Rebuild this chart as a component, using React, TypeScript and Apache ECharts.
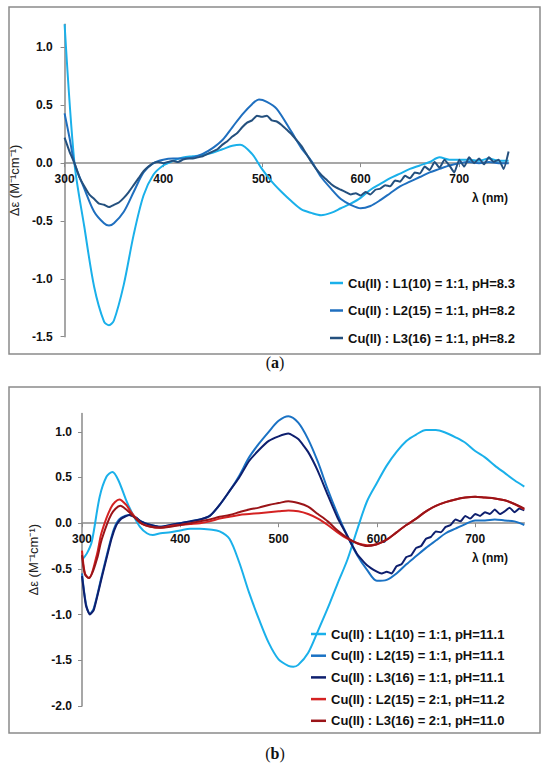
import React, { useEffect, useRef } from "react";
import * as echarts from "echarts";

// ---------- Panel (a) data ----------
const aL1X = [300, 310, 320, 330, 340, 345, 350, 360, 370, 380, 390, 400, 410, 420, 430, 440, 450, 460, 470, 478, 490, 500, 510, 520, 530, 540, 550, 560, 570, 580, 590, 600, 610, 620, 630, 640, 650, 660, 670, 680, 690, 700, 710, 720, 730, 740, 750];
const aL1Y = [1.2, 0.0, -0.55, -1.07, -1.37, -1.4, -1.36, -1.05, -0.62, -0.28, -0.1, -0.02, 0.02, 0.05, 0.06, 0.07, 0.09, 0.12, 0.15, 0.16, 0.08, -0.05, -0.16, -0.25, -0.33, -0.4, -0.43, -0.45, -0.43, -0.39, -0.35, -0.3, -0.23, -0.18, -0.13, -0.09, -0.05, -0.02, 0.01, 0.05, 0.03, 0.03, 0.03, 0.02, 0.04, 0.02, 0.02];

const aL2X = [300, 305, 310, 320, 330, 340, 345, 350, 360, 370, 380, 390, 400, 410, 420, 430, 440, 450, 460, 470, 480, 490, 497, 505, 515, 530, 540, 550, 560, 570, 580, 590, 600, 610, 620, 630, 640, 650, 660, 670, 680, 690, 700, 710, 720, 730, 740, 750];
const aL2Y = [0.43, 0.22, 0.0, -0.22, -0.42, -0.52, -0.54, -0.52, -0.42, -0.25, -0.08, 0.0, 0.03, 0.04, 0.04, 0.05, 0.08, 0.13, 0.2, 0.31, 0.42, 0.51, 0.55, 0.53, 0.47, 0.27, 0.13, 0.02, -0.12, -0.22, -0.31, -0.36, -0.39, -0.37, -0.32, -0.26, -0.2, -0.16, -0.12, -0.08, -0.05, -0.02, 0.0, 0.01, 0.0, 0.01, 0.0, 0.0];

const aL3X = [300, 305, 310, 315, 320, 325, 330, 335, 340, 345, 350, 355, 360, 365, 370, 375, 380, 385, 390, 395, 400, 405, 410, 415, 420, 425, 430, 435, 440, 445, 450, 455, 460, 465, 470, 475, 480, 485, 490, 495, 500, 505, 510, 515, 520, 525, 530, 535, 540, 545, 550, 555, 560, 565, 570, 575, 580, 585, 590, 595, 600, 605, 610, 615, 620, 625, 630, 635, 640, 645, 650, 655, 660, 665, 670, 675, 680, 685, 690, 695, 700, 705, 710, 715, 720, 725, 730, 735, 740, 745, 750];
const aL3Y = [0.22, 0.1, 0.0, -0.12, -0.2, -0.27, -0.31, -0.35, -0.36, -0.38, -0.36, -0.34, -0.3, -0.25, -0.19, -0.13, -0.07, -0.03, 0.0, 0.01, 0.0, 0.01, 0.02, 0.01, 0.03, 0.04, 0.04, 0.05, 0.06, 0.08, 0.1, 0.12, 0.16, 0.19, 0.23, 0.26, 0.31, 0.35, 0.37, 0.41, 0.4, 0.41, 0.37, 0.36, 0.33, 0.29, 0.25, 0.2, 0.15, 0.08, 0.01, -0.05, -0.1, -0.14, -0.18, -0.21, -0.23, -0.25, -0.27, -0.26, -0.28, -0.25, -0.27, -0.23, -0.22, -0.19, -0.2, -0.15, -0.16, -0.11, -0.13, -0.08, -0.09, -0.03, -0.06, 0.01, -0.04, 0.03, -0.02, -0.08, 0.03, -0.03, 0.05, 0.0, 0.04, -0.01, 0.05, 0.01, 0.03, -0.05, 0.1];

// ---------- Panel (b) data ----------
const bL1X = [300, 305, 310, 318, 325, 331, 337, 345, 352, 359, 366, 372, 380, 390, 400, 410, 420, 430, 440, 450, 460, 470, 480, 490, 500, 510, 515, 520, 530, 540, 550, 560, 570, 580, 590, 600, 610, 620, 630, 640, 650, 660, 670, 680, 690, 700, 710, 720, 730, 740, 750];
const bL1Y = [-0.4, -0.33, -0.2, 0.29, 0.51, 0.56, 0.47, 0.25, 0.09, -0.04, -0.11, -0.13, -0.11, -0.1, -0.08, -0.06, -0.06, -0.07, -0.09, -0.17, -0.43, -0.76, -1.05, -1.31, -1.49, -1.56, -1.57, -1.55, -1.42, -1.18, -0.93, -0.66, -0.4, -0.07, 0.24, 0.44, 0.63, 0.78, 0.9, 0.97, 1.02, 1.02, 0.99, 0.94, 0.88, 0.79, 0.72, 0.63, 0.55, 0.47, 0.4];

const bL2X = [300, 304, 308, 312, 320, 330, 335, 340, 348, 355, 360, 370, 380, 390, 400, 410, 420, 430, 440, 450, 460, 470, 480, 490, 500, 510, 520, 530, 540, 550, 560, 570, 580, 590, 600, 610, 620, 630, 640, 650, 660, 670, 680, 690, 700, 710, 720, 730, 740, 750];
const bL2Y = [-0.55, -0.88, -0.99, -0.93, -0.58, -0.15, 0.0, 0.06, 0.09, 0.06, 0.02, -0.02, -0.04, -0.02, 0.0, 0.02, 0.04, 0.08, 0.2, 0.35, 0.52, 0.72, 0.87, 1.0, 1.12, 1.17, 1.1, 0.92, 0.67, 0.37, 0.1, -0.14, -0.35, -0.51, -0.63, -0.62, -0.55, -0.45, -0.36, -0.27, -0.19, -0.11, -0.06, -0.01, 0.03, 0.03, 0.04, 0.03, 0.02, -0.02];

const bL3X = [300, 304, 308, 312, 320, 330, 335, 340, 348, 355, 360, 370, 380, 390, 400, 410, 420, 430, 440, 450, 460, 470, 480, 490, 500, 510, 520, 530, 540, 550, 560, 570, 580, 590, 600, 605, 610, 615, 620, 625, 630, 635, 640, 645, 650, 655, 660, 665, 670, 675, 680, 685, 690, 695, 700, 705, 710, 715, 720, 725, 730, 735, 740, 745, 750];
const bL3Y = [-0.58, -0.9, -1.0, -0.95, -0.6, -0.17, -0.02, 0.05, 0.09, 0.06, 0.02, -0.02, -0.04, -0.02, 0.0, 0.02, 0.04, 0.08, 0.2, 0.35, 0.5, 0.68, 0.8, 0.9, 0.95, 0.98, 0.92, 0.78, 0.57, 0.31, 0.06, -0.14, -0.34, -0.46, -0.53, -0.55, -0.53, -0.55, -0.47, -0.45, -0.37, -0.35, -0.27, -0.25, -0.17, -0.15, -0.09, -0.1, -0.04, -0.02, 0.04, 0.02, 0.08, 0.05, 0.1, 0.08, 0.12, 0.1, 0.15, 0.1, 0.13, 0.17, 0.12, 0.16, 0.14];

const bR2X = [300, 303, 307, 315, 320, 330, 338, 345, 350, 360, 370, 380, 390, 400, 410, 420, 430, 440, 450, 460, 470, 480, 490, 500, 510, 520, 530, 540, 550, 560, 570, 580, 590, 600, 610, 620, 630, 640, 650, 660, 670, 680, 690, 700, 710, 720, 730, 740, 750];
const bR2Y = [-0.3, -0.55, -0.6, -0.35, -0.1, 0.18, 0.26, 0.2, 0.12, 0.0, -0.04, -0.05, -0.03, -0.02, -0.01, 0.0, 0.02, 0.05, 0.07, 0.09, 0.1, 0.11, 0.12, 0.13, 0.14, 0.13, 0.1, 0.05, -0.02, -0.1, -0.17, -0.22, -0.24, -0.23, -0.18, -0.1, -0.02, 0.05, 0.13, 0.19, 0.23, 0.26, 0.28, 0.29, 0.28, 0.27, 0.25, 0.21, 0.15];

const bR3X = [300, 303, 307, 315, 320, 330, 339, 345, 350, 360, 370, 380, 390, 400, 410, 420, 430, 440, 450, 460, 470, 480, 490, 500, 510, 520, 530, 540, 550, 560, 570, 580, 590, 600, 610, 620, 630, 640, 650, 660, 670, 680, 690, 700, 710, 720, 730, 740, 750];
const bR3Y = [-0.35, -0.56, -0.6, -0.4, -0.18, 0.1, 0.19, 0.15, 0.1, 0.0, -0.04, -0.05, -0.04, -0.02, 0.0, 0.02, 0.04, 0.07, 0.09, 0.12, 0.15, 0.17, 0.2, 0.22, 0.24, 0.22, 0.18, 0.1, 0.02, -0.08, -0.16, -0.22, -0.25, -0.23, -0.18, -0.1, -0.02, 0.05, 0.13, 0.19, 0.23, 0.26, 0.28, 0.29, 0.28, 0.27, 0.25, 0.21, 0.16];

const namesA = [
  "Cu(II) : L1(10) = 1:1, pH=8.3",
  "Cu(II) : L2(15) = 1:1, pH=8.2",
  "Cu(II) : L3(16) = 1:1, pH=8.2",
];
const namesB = [
  "Cu(II) : L1(10) = 1:1, pH=11.1",
  "Cu(II) : L2(15) = 1:1, pH=11.1",
  "Cu(II) : L3(16) = 1:1, pH=11.1",
  "Cu(II) : L2(15) = 2:1, pH=11.2",
  "Cu(II) : L3(16) = 2:1, pH=11.0",
];
const colorsA = ["#1ab0ea", "#1f6fbf", "#24507e"];
const colorsB = ["#1ab0ea", "#1a72c4", "#0e1f6e", "#d42222", "#9a1418"];

const xTicks = [300, 400, 500, 600, 700];
const yTicksA = [-1.5, -1, -0.5, 0, 0.5, 1];
const yTicksB = [-2, -1.5, -1, -0.5, 0, 0.5, 1];

const FONT = "Liberation Sans, Arial, sans-serif";
const GRAY = "#8a8a8a";

const zip = (xs: number[], ys: number[]) => xs.map((x, i) => [x, ys[i]]);

// Grid layouts (pixels)
const gridA = { left: 62, top: 24.3, width: 446.6, height: 312.4 };
const gridB = { left: 82, top: 413.5, width: 442.3, height: 292.5 };
const yMinA = -1.5;
const yMinB = -2;
const yMax = 1.2;
// distance from grid bottom up to the y=0 line
const zeroOffset = (g: { height: number }, min: number) => -(g.height * (0 - min)) / (yMax - min);

function xAxisCfg(gridIndex: number, offset: number) {
  return {
    type: "value",
    gridIndex,
    min: 300,
    max: 750,
    position: "bottom",
    offset,
    axisLine: { show: true, onZero: false, lineStyle: { color: GRAY, width: 1.5 } },
    axisTick: { show: true, length: 4, customValues: xTicks, lineStyle: { color: GRAY } },
    axisLabel: {
      customValues: xTicks,
      fontFamily: FONT,
      fontWeight: "bold",
      fontSize: 12,
      color: "#111",
      margin: 10,
    },
    splitLine: { show: false },
  };
}

function yAxisCfg(gridIndex: number, min: number, ticks: number[], gap: number, margin: number) {
  return {
    type: "value",
    gridIndex,
    min,
    max: yMax,
    name: "Δε (M⁻¹cm⁻¹)",
    nameLocation: "middle",
    nameRotate: 90,
    nameGap: gap,
    nameTextStyle: { fontFamily: FONT, fontSize: 13, color: "#222" },
    axisLine: { show: true, onZero: false, lineStyle: { color: GRAY, width: 1.5 } },
    axisTick: { show: true, length: 4, customValues: ticks, lineStyle: { color: GRAY } },
    axisLabel: {
      customValues: ticks,
      formatter: (v: number) => v.toFixed(1),
      fontFamily: FONT,
      fontWeight: "bold",
      fontSize: 12,
      color: "#111",
      margin,
    },
    splitLine: { show: false },
  };
}

function line(name: string, color: string, data: number[][], idx: number, smooth = 0.3) {
  return {
    type: "line",
    name,
    xAxisIndex: idx,
    yAxisIndex: idx,
    data,
    symbol: "none",
    showSymbol: false,
    smooth,
    color,
    lineStyle: { color, width: 2 },
  };
}

export default function App() {
  const ref = useRef<HTMLDivElement>(null);
  useEffect(() => {
    if (!ref.current) return;
    const chart = echarts.init(ref.current, null, { renderer: "svg" });
    const legendText = { fontFamily: FONT, fontSize: 13, fontWeight: "bold", color: "#111", lineHeight: 14 };
    chart.setOption({
      animation: false,
      backgroundColor: "#fff",
      grid: [gridA, gridB],
      xAxis: [xAxisCfg(0, zeroOffset(gridA, yMinA)), xAxisCfg(1, zeroOffset(gridB, yMinB))],
      yAxis: [yAxisCfg(0, yMinA, yTicksA, 39, 12), yAxisCfg(1, yMinB, yTicksB, 40, 10)],
      legend: [
        {
          data: namesA,
          orient: "vertical",
          left: 330,
          top: 276,
          padding: 0,
          icon: "rect",
          itemWidth: 13,
          itemHeight: 2.5,
          itemGap: 13.5,
          textStyle: legendText,
        },
        {
          data: namesB,
          orient: "vertical",
          left: 311,
          top: 627,
          padding: 0,
          icon: "rect",
          itemWidth: 15,
          itemHeight: 2.5,
          itemGap: 7.7,
          textStyle: legendText,
        },
      ],
      series: [
        line(namesA[0], colorsA[0], zip(aL1X, aL1Y), 0),
        line(namesA[1], colorsA[1], zip(aL2X, aL2Y), 0),
        line(namesA[2], colorsA[2], zip(aL3X, aL3Y), 0, 0.15),
        line(namesB[0], colorsB[0], zip(bL1X, bL1Y), 1),
        line(namesB[1], colorsB[1], zip(bL2X, bL2Y), 1),
        line(namesB[2], colorsB[2], zip(bL3X, bL3Y), 1, 0.15),
        line(namesB[3], colorsB[3], zip(bR2X, bR2Y), 1),
        line(namesB[4], colorsB[4], zip(bR3X, bR3Y), 1),
      ],
      graphic: [
        { type: "rect", shape: { x: 9, y: 7, width: 531, height: 347 }, style: { fill: "none", stroke: GRAY, lineWidth: 1.5 }, silent: true },
        { type: "rect", shape: { x: 9, y: 387, width: 531, height: 346 }, style: { fill: "none", stroke: GRAY, lineWidth: 1.5 }, silent: true },
        { type: "text", x: 490, y: 198, style: { text: "λ (nm)", font: `bold 12px ${FONT}`, fill: "#111", align: "center", verticalAlign: "middle" } },
        { type: "text", x: 490, y: 558, style: { text: "λ (nm)", font: `bold 12px ${FONT}`, fill: "#111", align: "center", verticalAlign: "middle" } },
        {
          type: "text", x: 275, y: 362,
          style: { text: "({b|a})", font: "16px Liberation Serif, serif", fill: "#111", align: "center", verticalAlign: "middle",
            rich: { b: { fontWeight: "bold", fontFamily: "Liberation Serif, serif", fontSize: 16 } } },
        },
        {
          type: "text", x: 275, y: 753,
          style: { text: "({b|b})", font: "16px Liberation Serif, serif", fill: "#111", align: "center", verticalAlign: "middle",
            rich: { b: { fontWeight: "bold", fontFamily: "Liberation Serif, serif", fontSize: 16 } } },
        },
      ],
    });
    return () => chart.dispose();
  }, []);
  return <div ref={ref} style={{ position: "absolute", left: 0, top: 0, width: 550, height: 765 }} />;
}
